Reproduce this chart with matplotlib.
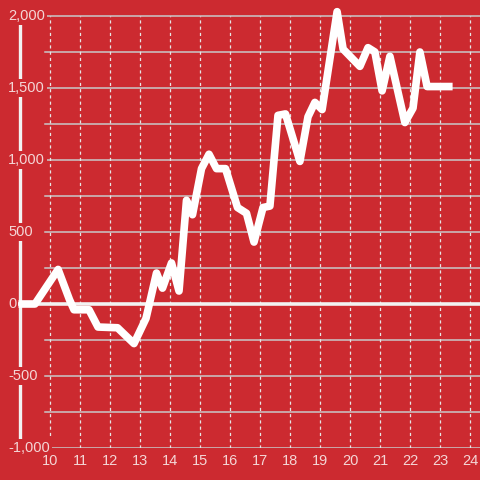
import matplotlib
matplotlib.use("Agg")
import matplotlib.pyplot as plt

plt.rcParams['font.family'] = ['Liberation Sans', 'DejaVu Sans']

bg = "#cc2a30"
label_color = "#f4d6d6"

x = [8.95, 9.5, 10.27, 10.65, 10.8, 11.3, 11.6, 12.25, 12.8, 13.2, 13.55, 13.75,
     14.05, 14.3, 14.55, 14.75, 15.05, 15.3, 15.55, 15.85, 16.25, 16.55, 16.8,
     17.1, 17.33, 17.6, 17.85, 18.33, 18.6, 18.83, 19.07, 19.57, 19.77, 20.33,
     20.6, 20.83, 21.07, 21.33, 21.83, 22.1, 22.33, 22.57, 23.42]
y = [0, 0, 240, 30, -40, -40, -160, -165, -275, -100, 215, 110,
     285, 90, 720, 620, 940, 1040, 940, 940, 670, 630, 430,
     670, 680, 1310, 1320, 990, 1300, 1400, 1350, 2030, 1770, 1650,
     1780, 1750, 1480, 1720, 1260, 1360, 1750, 1510, 1510]

x_ticks = list(range(10, 25))
y_ticks = [2000, 1500, 1000, 500, 0, -500, -1000]
y_labels = ["2,000", "1,500", "1,000", "500", "0", "-500", "-1,000"]
y_grid = [-1000, -750, -500, -250, 250, 500, 750, 1000, 1250, 1500, 1750, 2000]

fig = plt.figure(figsize=(4.8, 4.8), dpi=100, facecolor=bg)
ax = fig.add_axes([18 / 480, 32 / 480, 462 / 480, 448 / 480])
ax.set_facecolor(bg)
ax.set_xlim(8.9333, 24.3333)
ax.set_ylim(-1000, 2111)
ax.axis("off")

# grid
for g in y_grid:
    ax.plot([9.833, 24.3333], [g, g], color="#c9c9c9", lw=1.1, zorder=1)
for t in x_ticks:
    ax.plot([t, t], [-1000, 2000], color="#e6e6e6", lw=0.9,
            linestyle=(0, (2.5, 2.5)), zorder=1)

# axis lines
ax.plot([8.93, 24.3333], [0, 0], color="#f2f2f2", lw=2.6, zorder=2)
ax.plot([9.0, 9.0], [-1000, 2000], color="#f2f2f2", lw=2.4, zorder=2)

# tick labels
for v, s in zip(y_ticks, y_labels):
    ax.text(8.6, v, s, ha="left", va="center", fontsize=10.5, color=label_color,
            zorder=3, clip_on=False,
            bbox=dict(facecolor=bg, edgecolor="none", pad=1.5))
for t in x_ticks:
    ax.text(t, -1090, str(t), ha="center", va="center", fontsize=10.5,
            color=label_color, clip_on=False)

ax.plot(x, y, color="white", lw=5.5, solid_joinstyle="round",
        solid_capstyle="butt", zorder=4)

fig.savefig("out.png", dpi=100, facecolor=bg)
